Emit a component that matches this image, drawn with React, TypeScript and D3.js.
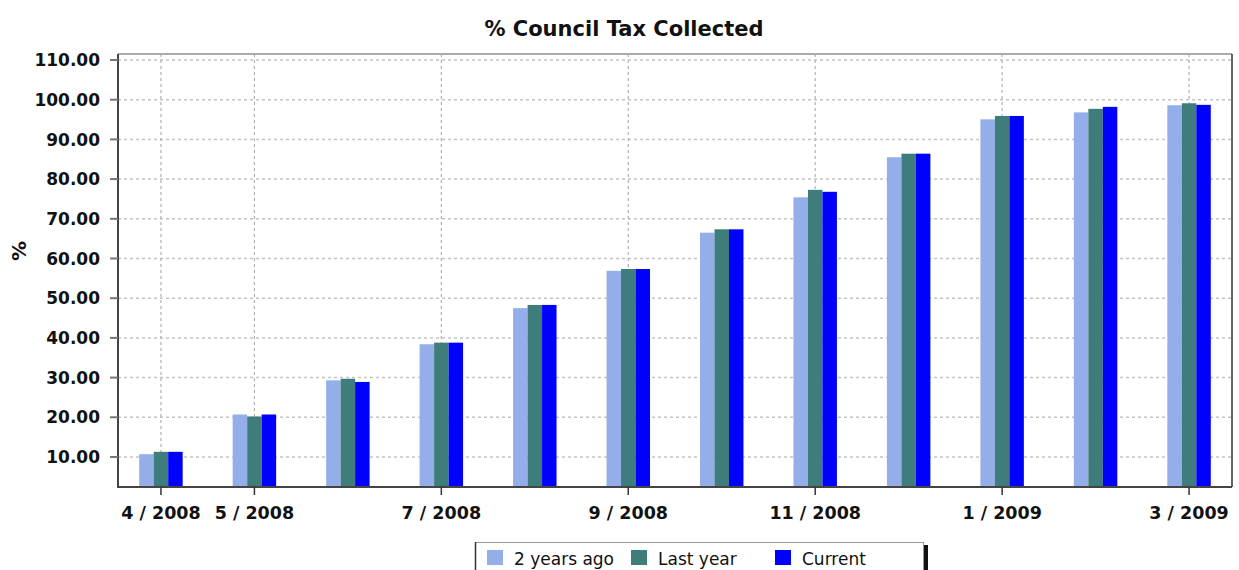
import React from "react";
import * as d3 from "d3";

const categories = ["4 / 2008", "5 / 2008", "6 / 2008", "7 / 2008", "8 / 2008", "9 / 2008", "10 / 2008", "11 / 2008", "12 / 2008", "1 / 2009", "2 / 2009", "3 / 2009"];
const shownLabels = ["4 / 2008", "5 / 2008", "7 / 2008", "9 / 2008", "11 / 2008", "1 / 2009", "3 / 2009"];
const seriesNames = ["2 years ago", "Last year", "Current"];
const twoYearsAgo = [10.7, 20.7, 29.3, 38.4, 47.5, 56.9, 66.5, 75.4, 85.5, 95.05, 96.8, 98.6];
const lastYear = [11.3, 20.2, 29.7, 38.8, 48.3, 57.35, 67.35, 77.3, 86.4, 95.9, 97.7, 99.1];
const current = [11.3, 20.7, 28.9, 38.8, 48.3, 57.35, 67.35, 76.8, 86.4, 95.9, 98.2, 98.7];
const yTicks = [10, 20, 30, 40, 50, 60, 70, 80, 90, 100, 110];
const colors = ["#93aee8", "#3f7c7c", "#0000ff"];

const W = 1239, H = 570;
const left = 118, right = 1232, top = 54, bottom = 487;
const FONT = "'DejaVu Sans', Verdana, sans-serif";

export default function App() {
  const values = [twoYearsAgo, lastYear, current];
  const x = d3.scaleBand<string>().domain(categories).range([left, right]).paddingInner(0.535).paddingOuter(0.227);
  const xs = d3.scaleBand<string>().domain(seriesNames).range([0, x.bandwidth()]).padding(0);
  const y = d3.scaleLinear().domain([2.44, 111.51]).range([bottom, top]);
  const cx = (c: string) => (x(c) as number) + x.bandwidth() / 2;

  return (
    <svg width={W} height={H} style={{ position: "absolute", left: 0, top: 0, background: "#fff" }}>
      <text x={624} y={36} textAnchor="middle" fontFamily={FONT} fontWeight="bold" fontSize={21} fill="#111">% Council Tax Collected</text>

      {/* horizontal grid */}
      {yTicks.map((t) => (
        <line key={"g" + t} x1={left} x2={right} y1={y(t)} y2={y(t)} stroke="#c4c4c4" strokeWidth={1.5} strokeDasharray="3,3" />
      ))}
      {/* vertical grid */}
      {shownLabels.map((c) => (
        <line key={"v" + c} x1={cx(c)} x2={cx(c)} y1={top} y2={bottom} stroke="#b0b0b0" strokeWidth={1.2} strokeDasharray="3,3" />
      ))}

      {/* bars */}
      {categories.map((c, i) => (
        <g key={c}>
          {seriesNames.map((s, j) => (
            <rect key={s} x={(x(c) as number) + (xs(s) as number)} width={xs.bandwidth()} y={y(values[j][i])} height={bottom - y(values[j][i])} fill={colors[j]} />
          ))}
        </g>
      ))}

      {/* frame */}
      <line x1={left} x2={right} y1={top} y2={top} stroke="#aaaaaa" strokeWidth={2} />
      <line x1={right} x2={right} y1={top} y2={bottom} stroke="#333" strokeWidth={1.5} />
      <line x1={left} x2={left} y1={top} y2={bottom + 1} stroke="#444" strokeWidth={2} />
      <line x1={left - 1} x2={right} y1={bottom} y2={bottom} stroke="#444" strokeWidth={2} />

      {/* y axis */}
      {yTicks.map((t) => (
        <g key={"y" + t}>
          <line x1={left - 8} x2={left} y1={y(t)} y2={y(t)} stroke="#777" strokeWidth={2} />
          <text x={100} y={y(t)} dy="0.36em" textAnchor="end" fontFamily={FONT} fontWeight="bold" fontSize={17} fill="#111">{t.toFixed(2)}</text>
        </g>
      ))}
      <text transform={`translate(26,251) rotate(-90)`} textAnchor="middle" fontFamily={FONT} fontWeight="bold" fontSize={20} fill="#111">%</text>

      {/* x axis */}
      {shownLabels.map((c) => (
        <g key={"x" + c}>
          <line x1={cx(c)} x2={cx(c)} y1={bottom} y2={bottom + 8} stroke="#333" strokeWidth={1.5} />
          <text x={cx(c)} y={519} textAnchor="middle" fontFamily={FONT} fontWeight="bold" fontSize={17.5} fill="#111">{c}</text>
        </g>
      ))}

      {/* legend */}
      <rect x={924} y={545} width={4} height={30} fill="#111" />
      <rect x={475.5} y={542.5} width={448} height={40} fill="#fff" stroke="#999" strokeWidth={1} />
      <line x1={475.5} x2={475.5} y1={542} y2={570} stroke="#333" strokeWidth={1.5} />
      {seriesNames.map((s, j) => {
        const sx = [487, 631, 775][j];
        return (
          <g key={"l" + s}>
            <rect x={sx} y={550} width={16} height={15} fill={colors[j]} />
            <text x={sx + 27} y={565} fontFamily={FONT} fontSize={17} fill="#111">{s}</text>
          </g>
        );
      })}
    </svg>
  );
}
